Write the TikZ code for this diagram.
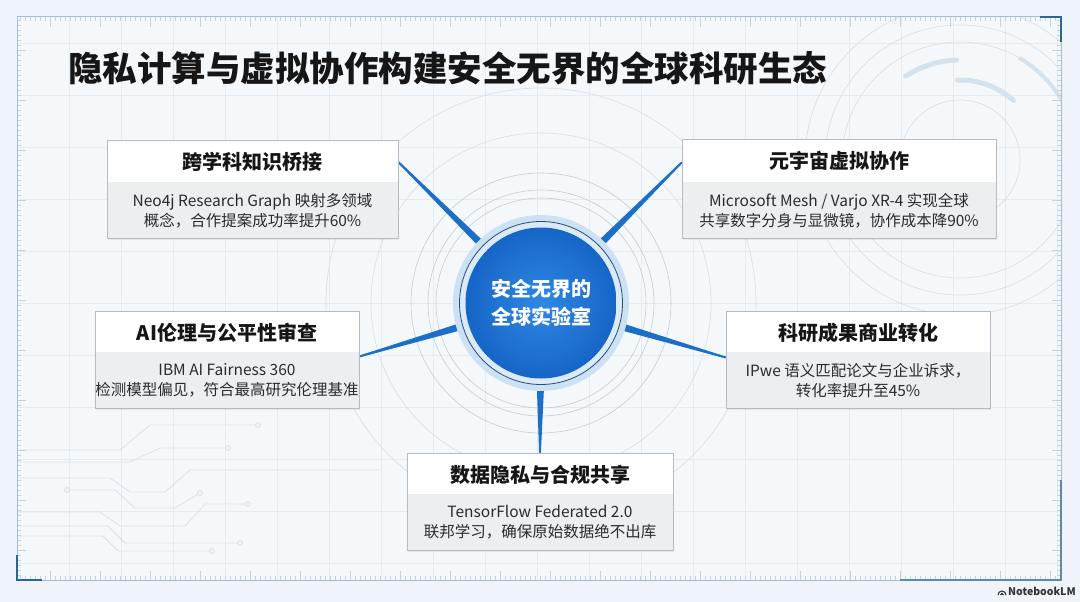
\documentclass[tikz,border=0pt]{standalone}
\usepackage{fontspec}
\setmainfont{Noto Sans CJK SC}
\usetikzlibrary{calc,shadows}
\definecolor{bgc}{HTML}{EEF4F9}
\definecolor{gridc}{HTML}{E3EBF3}
\definecolor{framec}{HTML}{A7BDCF}
\definecolor{tickc}{HTML}{C3D2DF}
\definecolor{cornerc}{HTML}{2D6790}
\definecolor{decoc}{HTML}{D4E2EE}
\definecolor{circc}{HTML}{D7E1EA}
\definecolor{ringc}{HTML}{C2CDD7}
\definecolor{connc}{HTML}{1C6FC9}
\definecolor{haloc}{HTML}{CCE1F4}
\definecolor{navyc}{HTML}{2B4C74}
\definecolor{diskin}{HTML}{2F88E4}
\definecolor{diskout}{HTML}{1665C8}
\definecolor{boxline}{HTML}{B3BBC3}
\definecolor{bandc}{HTML}{ECEEF0}
\definecolor{titlec}{HTML}{161616}
\definecolor{descc}{HTML}{2B2B2B}
\pgfdeclarelayer{bgl}
\pgfdeclarelayer{connl}
\pgfsetlayers{bgl,connl,main}
\newcommand\taperto[1]{%
  \fill[connc] let \p1=(c.center), \p2=(#1), \n1={atan2(\y2-\y1,\x2-\x1)} in
    ($(\p1)+(\n1:86pt)+(\n1+90:3.5pt)$) -- ($(\p2)+(\n1+90:0.9pt)$) --
    ($(\p2)+(\n1-90:0.9pt)$) -- ($(\p1)+(\n1:86pt)+(\n1-90:3.5pt)$) -- cycle;}
\begin{document}
\begin{tikzpicture}[x=1pt,y=-1pt,
  box/.style={rectangle, draw=boxline, line width=0.7pt, fill=white, inner sep=0pt,
    drop shadow={opacity=0.12, shadow xshift=1pt, shadow yshift=-1.5pt},
    path picture={\fill[bandc] (path picture bounding box.south west) rectangle ([yshift=56pt]path picture bounding box.south east);}},
  ttl/.style={font=\fontsize{20}{24}\selectfont\bfseries, text=titlec, inner sep=0pt},
  dsc/.style={font=\fontsize{15.5}{20}\selectfont, text=descc, align=center, inner sep=0pt},
  conn/.style={draw=connc, line width=1.6pt},
  tick/.style={draw=tickc, line width=0.5pt},
  deco/.style={draw=decoc, line width=0.8pt},
  thinring/.style={draw=ringc, line width=0.6pt}]
\useasboundingbox (0,0) rectangle (1080,602);

% ---------- nodes ----------
\node[circle, minimum size=176pt, fill=haloc, inner sep=0pt] (c) at (541,303) {};
\node[circle, minimum size=163pt, draw=navyc, line width=0.8pt, fill=haloc!70!white, inner sep=0pt] (cring) at (c.center) {};
\node[circle, minimum size=151pt, inner color=diskin, outer color=diskout, inner sep=0pt,
      text=white, align=center, font=\fontsize{20}{28}\selectfont\bfseries] (disk) at (c.center) {安全无界的\\全球实验室};

\node[box, minimum width=291pt, minimum height=98pt] (b1) at (252.5,189) {};
\node[box, minimum width=314pt, minimum height=99pt] (b2) at (839,188.5) {};
\node[box, minimum width=264pt, minimum height=97pt] (b3) at (227,359.5) {};
\node[box, minimum width=264pt, minimum height=97pt] (b4) at (858,359.5) {};
\node[box, minimum width=266pt, minimum height=97pt] (b5) at (540,501.5) {};

\node[ttl] (h1) at ([yshift=-22pt]b1.north) {跨学科知识桥接};
\node[dsc] (d1) at ([yshift=28pt]b1.south) {Neo4j Research Graph 映射多领域\\概念，合作提案成功率提升60\%};
\node[ttl] (h2) at ([yshift=-22pt]b2.north) {元宇宙虚拟协作};
\node[dsc] (d2) at ([yshift=28pt]b2.south) {Microsoft Mesh / Varjo XR-4 实现全球\\共享数字分身与显微镜，协作成本降90\%};
\node[ttl] (h3) at ([yshift=-22pt]b3.north) {AI伦理与公平性审查};
\node[dsc] (d3) at ([yshift=28pt]b3.south) {IBM AI Fairness 360\\检测模型偏见，符合最高研究伦理基准};
\node[ttl] (h4) at ([yshift=-22pt]b4.north) {科研成果商业转化};
\node[dsc] (d4) at ([yshift=28pt]b4.south) {IPwe 语义匹配论文与企业诉求，\\转化率提升至45\%};
\node[ttl] (h5) at ([yshift=-22pt]b5.north) {数据隐私与合规共享};
\node[dsc] (d5) at ([yshift=28pt]b5.south) {TensorFlow Federated 2.0\\联邦学习，确保原始数据绝不出库};

\node[anchor=west, inner sep=0pt, font=\fontsize{34.5}{40}\selectfont\bfseries, text=titlec] (title) at (68,68)
  {隐私计算与虚拟协作构建安全无界的全球科研生态};
\node[anchor=west, inner sep=0pt, font=\fontsize{10.5}{12}\selectfont\bfseries, text=black!80] (nlm) at (1008,591) {NotebookLM};

\coordinate (t1) at ([yshift=27pt]b1.east);
\coordinate (t2) at ([yshift=26pt]b2.west);
\coordinate (t3) at ([yshift=3pt]b3.east);
\coordinate (t4) at ([yshift=2pt]b4.west);
\coordinate (t5) at (b5.north);

% ---------- connectors ----------
\begin{pgfonlayer}{connl}
\foreach \t in {t1,t2,t3,t4,t5} {
  \draw[conn] (c) -- (\t);
  \taperto{\t}
}
\end{pgfonlayer}

% ---------- background ----------
\begin{pgfonlayer}{bgl}
\fill[bgc] (0,0) rectangle (1080,602);
\fill[white, opacity=0.45] (17,17) rectangle (1061,580);
\begin{scope}
\clip (17,17) rectangle (1061,580);
\foreach \x in {69,121,...,1061} \draw[gridc, line width=0.5pt] (\x,17) -- (\x,580);
\foreach \y in {43,95,...,580} \draw[gridc, line width=0.5pt] (17,\y) -- (1061,\y);
% decorative arcs top right
\foreach \r in {60,118,135,155} \draw[circc, line width=0.7pt] (960,160) circle[radius=\r];
\draw[decoc, line width=5pt, line cap=round] (960,160) ++(237:100) arc[start angle=237, end angle=268, radius=100];
\draw[decoc, line width=5pt, line cap=round] (960,160) ++(268:80) arc[start angle=268, end angle=312, radius=80];
\draw[decoc, line width=4pt] (960,160) ++(300:118) arc[start angle=300, end angle=335, radius=118];
% circuit lines bottom left
\draw[deco] (17,450) -- (120,450) -- (150,425) -- (258,425);
\draw[deco] (17,462) -- (130,462) -- (160,448) -- (228,448);
\draw[deco] (17,478) -- (110,478) -- (130,492) -- (165,492) -- (190,470) -- (380,470);
\draw[deco] (67,490) -- (115,490) -- (135,508) -- (175,508) -- (200,493);
\draw[deco] (17,512) -- (100,512) -- (120,526) -- (185,526) -- (205,504) -- (248,504);
\draw[deco] (17,526) -- (108,526) -- (125,543) -- (240,543);
\draw[deco] (17,536) -- (103,536) -- (118,551) -- (212,551);
\foreach \p in {(258,425),(228,448),(67,490),(200,493),(248,504),(240,543),(212,551)}
  \draw[deco, fill=bgc] \p circle[radius=2.5];
\end{scope}
% concentric rings round the centre
\foreach \r in {105,113,130} \draw[thinring] (c.center) circle[radius=\r];
\foreach \r in {170,215} \draw[circc, line width=0.7pt] (c.center) circle[radius=\r];
% ruler ticks
\foreach \x in {20,25,...,1058} {\draw[tick] (\x,17) -- (\x,21); \draw[tick] (\x,580) -- (\x,576);}
\foreach \x in {50,100,...,1050} {\draw[tick] (\x,17) -- (\x,27); \draw[tick] (\x,580) -- (\x,571);}
\foreach \y in {20,25,...,577} {\draw[tick] (17,\y) -- (21,\y); \draw[tick] (1061,\y) -- (1057,\y);}
\foreach \y in {50,100,...,550} {\draw[tick] (17,\y) -- (26,\y); \draw[tick] (1061,\y) -- (1052,\y);}
% frame
\draw[framec, line width=1pt] (17,17) rectangle (1061,580);
\draw[cornerc, line width=2pt] (1040,17) -- (1061,17) -- (1061,42);
\draw[cornerc, line width=2pt] (17,555) -- (17,580) -- (42,580);
\draw[cornerc!60!framec, line width=1.2pt] (900,580) -- (1061,580) -- (1061,480);
% NotebookLM mark
\draw[black!80, line width=1.1pt] (998,595) arc[start angle=180, end angle=360, radius=4];
\draw[black!80, line width=1.1pt] (1000.5,595) arc[start angle=180, end angle=360, radius=1.5];
\end{pgfonlayer}
\end{tikzpicture}
\end{document}
